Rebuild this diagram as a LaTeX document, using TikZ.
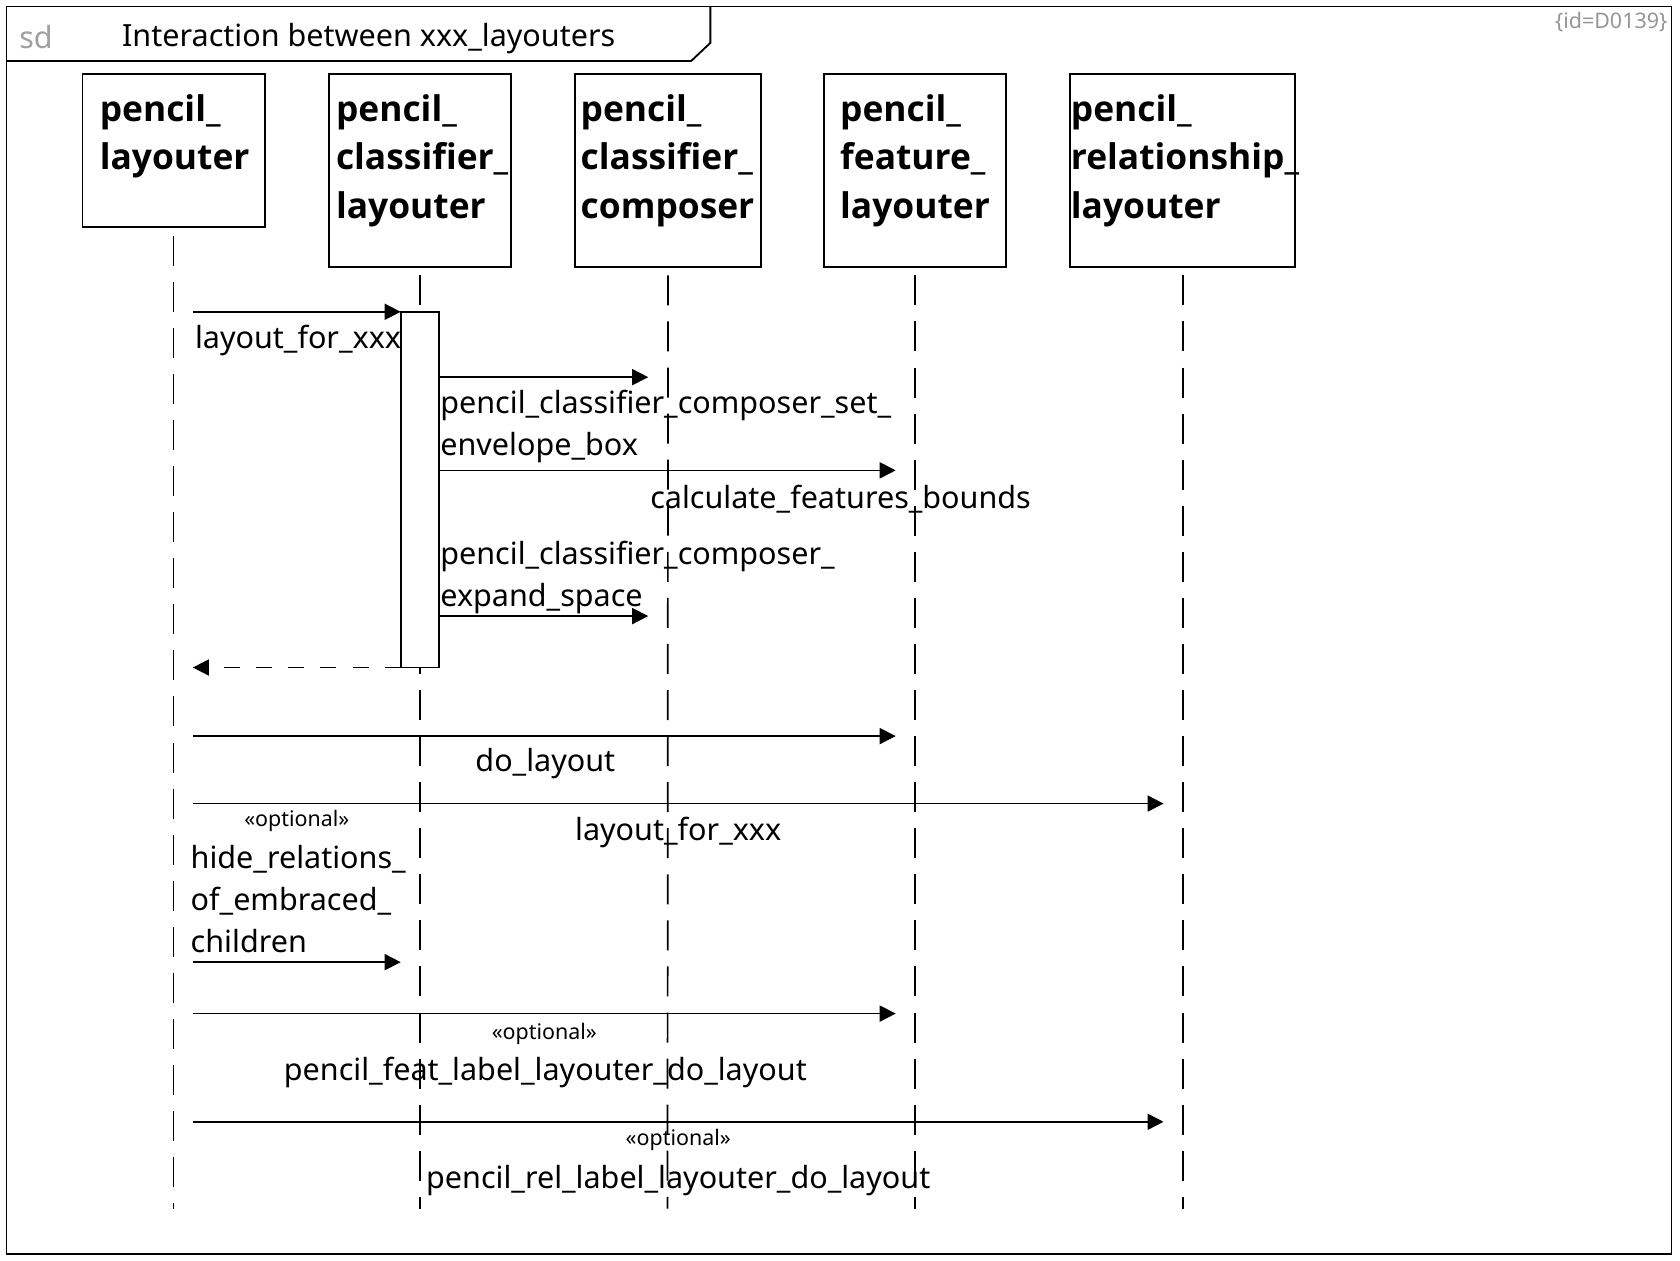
\documentclass[tikz,border=0pt]{standalone}
\usepackage{fontspec}
\setmainfont{Noto Sans}
\newfontfamily\headfont{Open Sans}
\usetikzlibrary{arrows.meta}
\definecolor{sdgray}{RGB}{160,160,160}
\definecolor{idgray}{RGB}{150,150,150}
\begin{document}
\begin{tikzpicture}[x=1pt,y=-1pt,
  every node/.style={inner sep=0pt, outer sep=0pt},
  framestyle/.style={line width=1.7pt},
  headbox/.style={draw, line width=1.7pt, anchor=north, minimum width=170pt},
  headtxt/.style={anchor=north, align=left, font=\headfont\fontsize{33}{45.5}\selectfont\bfseries},
  life/.style={line width=1.6pt, dash pattern=on 28pt off 15pt},
  msg/.style={line width=1.6pt, -{Triangle[length=15pt,width=15pt]}},
  retmsg/.style={line width=1.6pt, dash pattern=on 15pt off 15pt, -{Triangle[length=15pt,width=15pt]}},
  lbl/.style={font=\fontsize{28.5}{39}\selectfont, align=left},
  stereo/.style={font=\fontsize{20}{24}\selectfont},
]
\fill[white] (0,0) rectangle (1568,1176);
\useasboundingbox (0,0) rectangle (1568,1176);

% frame
\draw[framestyle] (6,6) rectangle (1560,1170);
\draw[framestyle] (6,57) -- (645,57) -- (663,40) -- (663,6);
\node[anchor=west, text=sdgray, font=\fontsize{28.5}{34}\selectfont] (sd) at (18,35) {sd};
\node[anchor=west, font=\fontsize{28.5}{34}\selectfont] (title) at (114,36) {Interaction between xxx\_layouters};
\node[anchor=east, text=idgray, font=\fontsize{20}{24}\selectfont] (id) at (1556,21) {\{id=D0139\}};

% lifeline heads
\node[headbox, minimum height=143pt] (hd1) at (162,69) {};
\node[headbox, minimum height=180pt] (hd2) at (392,69) {};
\node[headbox, minimum height=180pt, minimum width=173pt] (hd3) at (623.5,69) {};
\node[headbox, minimum height=180pt] (hd4) at (854,69) {};
\node[headbox, minimum height=180pt, minimum width=210pt] (hd5) at (1104,69) {};

\node[headtxt] (t1) at (163,88) {pencil\_\\layouter};
\node[headtxt] (t2) at (394,88) {pencil\_\\classifier\_\\layouter};
\node[headtxt] (t3) at (623,88) {pencil\_\\classifier\_\\composer};
\node[headtxt] (t4) at (854,88) {pencil\_\\feature\_\\layouter};
\node[headtxt] (t5) at (1106,88) {pencil\_\\relationship\_\\layouter};

% lifeline ends
\coordinate (e1) at (162,1128);
\coordinate (e2) at (392,1128);
\coordinate (e3) at (623,1128);
\coordinate (e4) at (854,1128);
\coordinate (e5) at (1104,1128);

\draw[life] ([yshift=-8pt]hd1.south) -- (e1);
\draw[life] ([yshift=-8pt]hd2.south) -- (e2);
\draw[life] ([yshift=-8pt]hd3.south) -- (e3);
\draw[life] ([yshift=-8pt]hd4.south) -- (e4);
\draw[life] ([yshift=-8pt]hd5.south) -- (e5);

% activation
\node[draw, fill=white, line width=1.6pt, minimum width=36pt, minimum height=332pt, anchor=north] (act) at (392,291) {};

% message endpoints
\coordinate (m1s) at (180,291);
\coordinate (m2s) at (410,352);  \coordinate (m2e) at (605,352);
\coordinate (m3s) at (410,439);  \coordinate (m3e) at (836,439);
\coordinate (m4s) at (410,575);  \coordinate (m4e) at (605,575);
\coordinate (m5e) at (180,623);
\coordinate (m6s) at (180,687);  \coordinate (m6e) at (836,687);
\coordinate (m7s) at (180,750);  \coordinate (m7e) at (1086,750);
\coordinate (m8s) at (180,898);  \coordinate (m8e) at (374,898);
\coordinate (m9s) at (180,946);  \coordinate (m9e) at (836,946);
\coordinate (m10s) at (180,1047); \coordinate (m10e) at (1086,1047);

\draw[msg] (m1s) -- (act.north west);
\draw[msg] (m2s) -- (m2e);
\draw[msg] (m3s) -- (m3e);
\draw[msg] (m4s) -- (m4e);
\draw[retmsg] (act.south west) -- (m5e);
\draw[msg] (m6s) -- (m6e);
\draw[msg] (m7s) -- (m7e);
\draw[msg] (m8s) -- (m8e);
\draw[msg] (m9s) -- (m9e);
\draw[msg] (m10s) -- (m10e);

% labels
\node[lbl, anchor=west] (l1) at (182,318) {layout\_for\_xxx};
\node[lbl, anchor=north west] (l2) at (411,364) {pencil\_classifier\_composer\_set\_\\envelope\_box};
\node[lbl] (l3) at (784.5,466) {calculate\_features\_bounds};
\node[lbl, anchor=north west] (l4) at (411,505) {pencil\_classifier\_composer\_\\expand\_space};
\node[lbl] (l6) at (509,713) {do\_layout};
\node[lbl] (l7) at (633,777) {layout\_for\_xxx};
\node[stereo] (s8) at (277,766) {«optional»};
\node[lbl, anchor=north west] (l8) at (178,789) {hide\_relations\_\\of\_embraced\_\\children};
\node[stereo] (s9) at (508,965) {«optional»};
\node[lbl] (l9) at (509,1001) {pencil\_feat\_label\_layouter\_do\_layout};
\node[stereo] (s10) at (633,1064) {«optional»};
\node[lbl] (l10) at (633,1102) {pencil\_rel\_label\_layouter\_do\_layout};
\end{tikzpicture}
\end{document}
